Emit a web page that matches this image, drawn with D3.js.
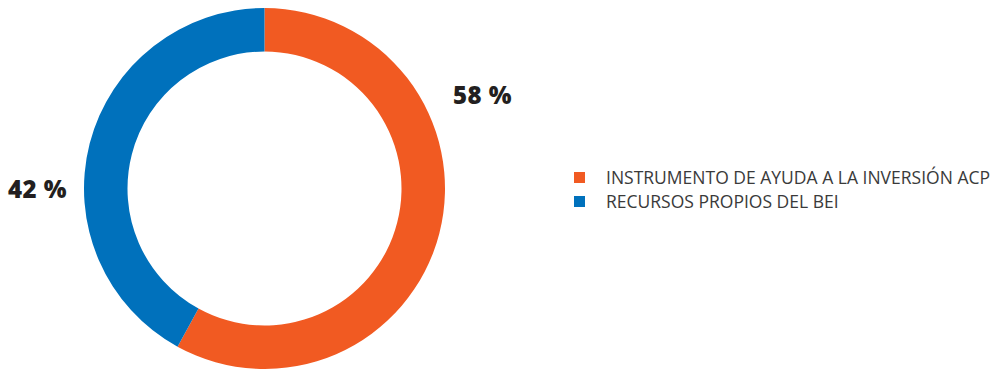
<!DOCTYPE html>
<html><head><meta charset="utf-8">
<script src="https://cdn.jsdelivr.net/npm/d3@7"></script>
<style>body{margin:0;background:#fff}svg{display:block}</style>
</head><body>
<svg id="c" width="995" height="369"></svg>
<script>
const categories = ["INSTRUMENTO DE AYUDA A LA INVERSIÓN ACP", "RECURSOS PROPIOS DEL BEI"];
const values = [58, 42];
const labels = ["58 %", "42 %"];
const colors = ["#F15A22", "#0071BC"];

const svg = d3.select("#c");
const cx = 264.5, cy = 188.5, R = 180.5, r = 137;
const pie = d3.pie().sort(null).value(d => d);
const arcs = pie(values);
const arc = d3.arc().innerRadius(r).outerRadius(R);
const g = svg.append("g").attr("transform", `translate(${cx},${cy})`);
g.selectAll("path").data(arcs).join("path")
  .attr("d", arc).attr("fill", (d, i) => colors[i]);

const labelPos = [[453, 104], [8, 198]];
svg.selectAll("text.lbl").data(labels).join("text").attr("class", "lbl")
  .attr("x", (d, i) => labelPos[i][0]).attr("y", (d, i) => labelPos[i][1])
  .attr("font-family", "Open Sans").attr("font-weight", 800).attr("font-size", 24)
  .attr("letter-spacing", 0.5)
  .attr("fill", "#231F20").text(d => d);

const lg = svg.append("g");
categories.forEach((c, i) => {
  const y = 172 + i * 24;
  lg.append("rect").attr("x", 574).attr("y", y).attr("width", 11).attr("height", 11).attr("fill", colors[i]);
  lg.append("text").attr("x", 606).attr("y", y + 11.5)
    .attr("font-family", "Open Sans").attr("font-size", 17.5).attr("fill", "#3a3a3a").text(c);
});
</script>
</body></html>
